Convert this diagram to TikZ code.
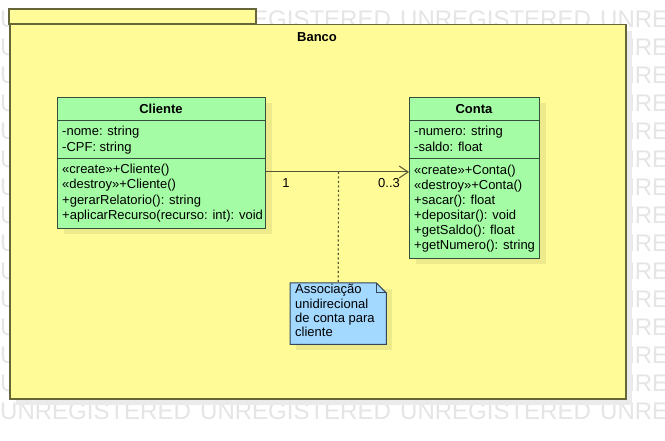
\documentclass[tikz,border=0pt]{standalone}
\usepackage{fontspec}
\setmainfont{Liberation Sans}
\usetikzlibrary{arrows.meta,calc,shadows}

\definecolor{pkgfill}{HTML}{FFFC98}
\definecolor{pkgline}{HTML}{66663A}
\definecolor{pkgshadow}{HTML}{EBEBEB}
\definecolor{clsfill}{HTML}{A4FCA4}
\definecolor{clsline}{HTML}{34503A}
\definecolor{clsshadow}{HTML}{EDEA8C}
\definecolor{notefill}{HTML}{A3D8FF}
\definecolor{noteline}{HTML}{34465A}
\definecolor{wmark}{HTML}{E5E5E5}
\definecolor{wire}{HTML}{555535}

\tikzset{
  txt/.style={font=\fontsize{13}{15}\selectfont, inner sep=0pt, text height=9.3pt, text depth=2.7pt},
  member/.style={txt, anchor=west},
  title/.style={txt, font=\fontsize{13}{15}\selectfont\bfseries},
  classbox/.style={draw=clsline, fill=clsfill, line width=1pt, anchor=north west, inner sep=0pt,
    drop shadow={shadow xshift=6pt, shadow yshift=-6pt, fill=clsshadow, opacity=1}},
  divider/.style={draw=clsline, line width=1pt},
  watermark/.style={font=\fontsize{24}{24}\selectfont, text=wmark, anchor=west, inner sep=0pt},
  assoc/.style={draw=wire, line width=1pt},
}

\begin{document}
\begin{tikzpicture}[x=1pt,y=-1pt]
\useasboundingbox (0,0) rectangle (665,441);
\fill[white] (0,0) rectangle (665,441);

% background watermark rows
\foreach \r in {0,...,14}{
  \foreach \c in {0,...,3}{
    \node[watermark] (wm-\r-\c) at (200*\c,19+28*\r) {UNREGISTERED};
  }
}

% package Banco
\fill[pkgshadow] (16,31) rectangle (632,405);
\draw[draw=pkgline, fill=pkgfill, line width=1.5pt] (9,9) rectangle (256,24);
\node[draw=pkgline, fill=pkgfill, line width=1.5pt, anchor=north west, inner sep=0pt,
      minimum width=616pt, minimum height=374pt] (banco) at (9,24) {};
\node[title] (banco-name) at (317,38) {Banco};

% class Cliente
\node[classbox, minimum width=208pt, minimum height=131pt] (cliente) at (57,97) {};
\draw[divider] (57,121) -- (265,121);
\draw[divider] (57,159) -- (265,159);
\node[title] (cliente-name) at (161,110) {Cliente};
\foreach \t [count=\i] in {-nome: string, -CPF: string}{
  \node[member] (cliente-a\i) at (62,116+16*\i) {\t};
}
\foreach \t [count=\i] in {«create»+Cliente(), «destroy»+Cliente(), +gerarRelatorio(): string, {+aplicarRecurso(recurso: int): void}}{
  \node[member] (cliente-m\i) at (62,155+15.3*\i) {\t};
}

% class Conta
\node[classbox, minimum width=130pt, minimum height=161pt] (conta) at (409,97) {};
\draw[divider] (409,121) -- (539,121);
\draw[divider] (409,159) -- (539,159);
\node[title] (conta-name) at (474,110) {Conta};
\foreach \t [count=\i] in {-numero: string, -saldo: float}{
  \node[member] (conta-a\i) at (414,116+16*\i) {\t};
}
\foreach \t [count=\i] in {«create»+Conta(), «destroy»+Conta(), +sacar(): float, +depositar(): void, +getSaldo(): float, +getNumero(): string}{
  \node[member] (conta-m\i) at (414,156+15*\i) {\t};
}

% unidirectional association
\coordinate (assoc-level) at (0,172);
\draw[assoc, -{Straight Barb[length=9pt,width=12pt,line width=1pt]}]
  (cliente.east |- assoc-level) -- (conta.west |- assoc-level)
  coordinate[pos=0.507] (assoc-mid);
\node[txt] (mult-cliente) at (286,184) {1};
\node[txt] (mult-conta) at (389,184) {0..3};

% note
\node[anchor=north west, inner sep=0pt, minimum width=96pt, minimum height=61pt] (note) at (290,283) {};
\fill[clsshadow] ($(note.north west)+(6,6)$) rectangle ($(note.south east)+(6,6)$);
\draw[draw=noteline, fill=notefill, line width=1pt, line join=miter]
  (note.north west) -- ($(note.north east)+(-10,0)$) -- ($(note.north east)+(0,10)$)
  -- (note.south east) -- (note.south west) -- cycle;
\draw[draw=noteline, line width=1pt]
  ($(note.north east)+(-10,0)$) -- ($(note.north east)+(-10,10)$) -- ($(note.north east)+(0,10)$);
\foreach \t [count=\i] in {Associação, unidirecional, de conta para, cliente}{
  \node[member] (note-l\i) at (295,276+14.4*\i) {\t};
}
\draw[assoc, line width=1.2pt, dash pattern=on 2pt off 2.5pt] (assoc-mid) -- (note.north);
\end{tikzpicture}
\end{document}
